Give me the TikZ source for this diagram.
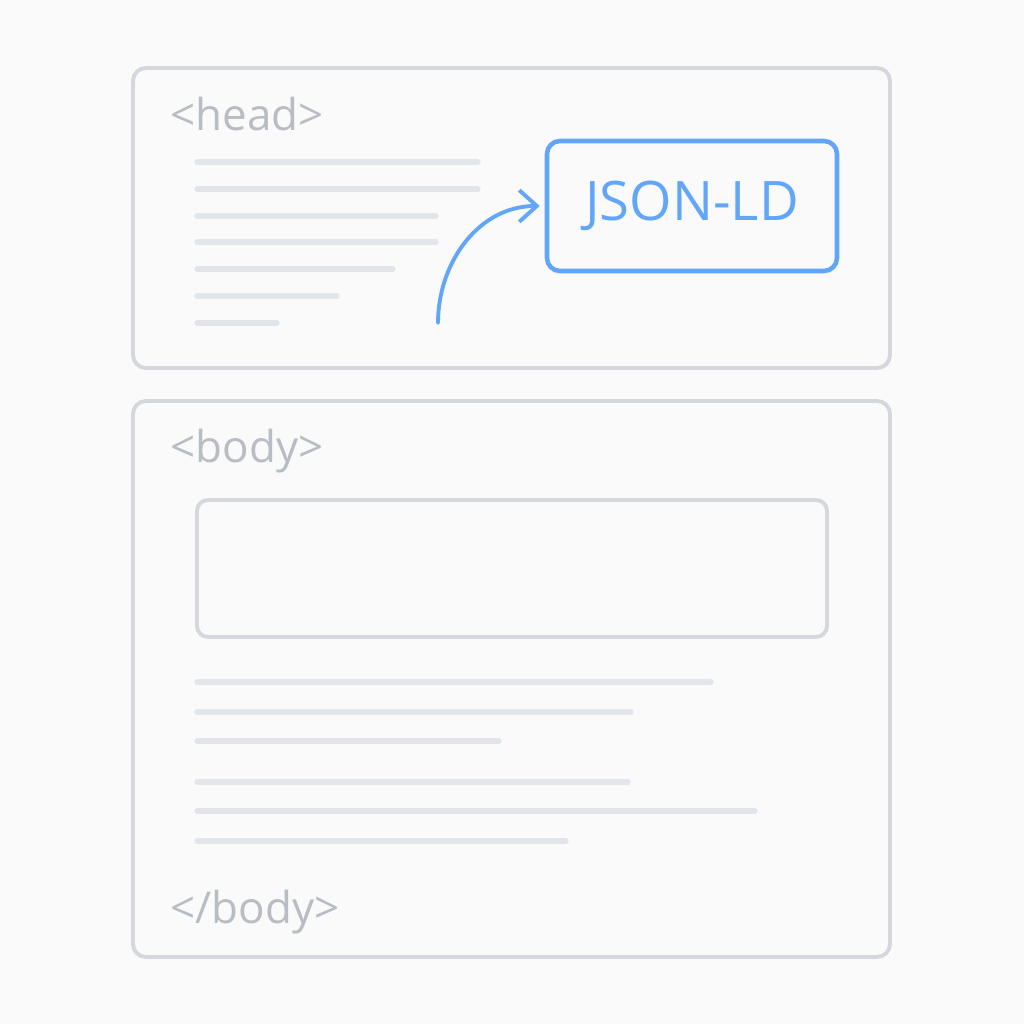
\documentclass[tikz,border=0pt]{standalone}
\usepackage{fontspec}
\setmainfont{Open Sans}
\usepackage{tikz}
\usetikzlibrary{arrows.meta}
\definecolor{pagebg}{RGB}{250,250,250}
\definecolor{frame}{RGB}{212,215,220}
\definecolor{textline}{RGB}{226,229,234}
\definecolor{tagtext}{RGB}{184,189,196}
\definecolor{ldblue}{RGB}{98,166,248}
\tikzset{
  panel/.style={draw=frame,line width=1.1pt,rounded corners=0.13cm},
  bar/.style={draw=textline,line width=1.5pt,line cap=round},
  tag/.style={anchor=base west,inner sep=0pt,text=tagtext,font=\fontsize{12.5}{15}\selectfont},
}
\begin{document}
\begin{tikzpicture}
    \fill[pagebg] (0,0) rectangle (10.24,10.24);
    \useasboundingbox (0,0) rectangle (10.24,10.24);
    % head
    \draw[panel] (1.33,6.56) rectangle (8.90,9.56);
    \node[tag] (headtag) at (1.70,8.93) {<head>};
    \draw[bar] (1.97,8.62) -- (4.78,8.62);
    \draw[bar] (1.97,8.35) -- (4.78,8.35);
    \draw[bar] (1.97,8.08) -- (4.36,8.08);
    \draw[bar] (1.97,7.82) -- (4.36,7.82);
    \draw[bar] (1.97,7.55) -- (3.93,7.55);
    \draw[bar] (1.97,7.28) -- (3.37,7.28);
    \draw[bar] (1.97,7.01) -- (2.77,7.01);
    \node[draw=ldblue,line width=1.3pt,rounded corners=0.13cm,minimum width=2.90cm,
          minimum height=1.30cm,text=ldblue,font=\fontsize{15.5}{18}\selectfont] (jsonld) at (6.92,8.18) {JSON-LD};
    \coordinate (arrowstart) at (4.38,7.01);
    \draw[ldblue,line width=1.1pt,line cap=round,-{Straight Barb[length=5pt,width=9pt]}]
      (arrowstart) to[out=90,in=180] ([xshift=-0.05cm]jsonld.west);
    %
    % body
    \draw[panel] (1.33,0.67) rectangle (8.90,6.23);
    \node[tag] (bodytag) at (1.70,5.61) {<body>};
    \draw[panel,rounded corners=0.11cm] (1.97,3.87) rectangle (8.27,5.24);
    \draw[bar] (1.97,3.42) -- (7.11,3.42);
    \draw[bar] (1.97,3.12) -- (6.31,3.12);
    \draw[bar] (1.97,2.83) -- (4.99,2.83);
    \draw[bar] (1.97,2.42) -- (6.28,2.42);
    \draw[bar] (1.97,2.13) -- (7.55,2.13);
    \draw[bar] (1.97,1.83) -- (5.66,1.83);
    \node[tag] (endtag) at (1.70,1.01) {</body>};
\end{tikzpicture}
\end{document}
